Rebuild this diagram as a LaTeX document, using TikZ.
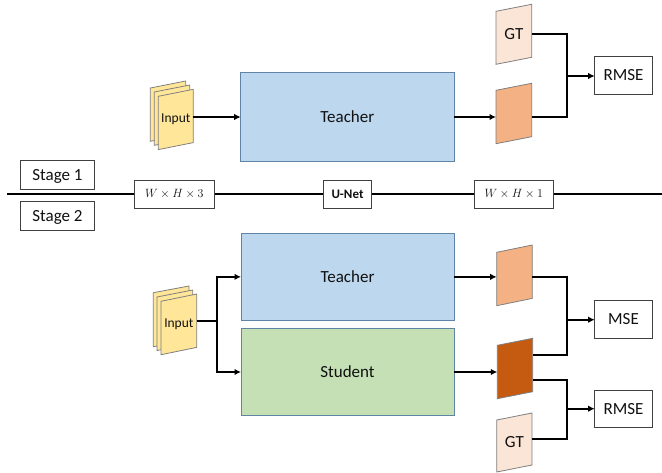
\documentclass[tikz,border=0pt]{standalone}
\usepackage{fontspec}
\setmainfont{Carlito}
\usetikzlibrary{arrows.meta,calc}
\definecolor{tfill}{HTML}{BDD7EE}
\definecolor{sfill}{HTML}{C5E0B4}
\definecolor{blockedge}{HTML}{5F84A6}
\definecolor{ofill}{HTML}{F4B183}
\definecolor{dfill}{HTML}{C55A11}
\definecolor{gfill}{HTML}{FBE5D6}
\definecolor{yfill}{HTML}{FFE699}
\definecolor{sheetedge}{HTML}{7F7F7F}
\definecolor{boxedge}{HTML}{404040}
\definecolor{txt}{HTML}{111111}
\tikzset{
  wire/.style={line width=2.1pt,black,line join=miter},
  arrowwire/.style={wire,-{Latex[length=6.5pt,width=6.5pt]}},
  blockT/.style={draw=blockedge,line width=1pt,fill=tfill},
  blockS/.style={draw=blockedge,line width=1pt,fill=sfill},
  labelbox/.style={draw=boxedge,line width=1pt,fill=white},
  sheet/.style={draw=sheetedge,line width=.8pt},
}
\newcommand{\BoxN}[7][]{%
  \pgfmathsetmacro{\bw}{#5-#3}\pgfmathsetmacro{\bh}{#6-#4}%
  \node[#1,rectangle,inner sep=0pt,outer sep=0pt,text=txt,minimum width=\bw pt,minimum height=\bh pt] (#2) at ({(#3+#5)/2},{(#4+#6)/2}) {#7};}
% name, xl, xr, y top right, skew, h, fill, text+font
\newcommand{\SheetN}[8]{%
  \pgfmathsetmacro{\bw}{#3-#2}\pgfmathsetmacro{\bh}{#6+#5}%
  \draw[sheet,fill=#7] (#2,#4+#5) -- (#3,#4) -- (#3,#4+#6) -- (#2,#4+#5+#6) -- cycle;
  \node[rectangle,inner sep=0pt,outer sep=0pt,text=txt,minimum width=\bw pt,minimum height=\bh pt] (#1) at ({(#2+#3)/2},{#4+(#5+#6)/2}) {#8};}
\newcommand{\FsL}{\fontsize{17}{19}\selectfont}
\newcommand{\FsI}{\fontsize{13.5}{15}\selectfont}
\newcommand{\FsM}{\fontsize{12}{14}\selectfont}
\begin{document}
\begin{tikzpicture}[x=1pt,y=-1pt]
\useasboundingbox (0,0) rectangle (662,472);
% stage divider
\coordinate (ruleL) at (7,194.3);
\coordinate (ruleR) at (662,194.3);
\draw[wire] (ruleL) -- (ruleR);
\BoxN[labelbox]{stageA}{20.7}{160.3}{94.3}{189}{\raisebox{-5.5pt}[0pt][0pt]{\FsL Stage 1}}
\BoxN[labelbox]{stageB}{20.7}{201.3}{94.3}{230.3}{\raisebox{-5.5pt}[0pt][0pt]{\FsL Stage 2}}
\BoxN[labelbox]{dimA}{134.3}{180}{214.3}{208.3}{\FsM $W\times H\times 3$}
\BoxN[labelbox]{unet}{323.3}{180}{371.7}{208.3}{\fontsize{13}{15}\selectfont\bfseries U-Net}
\BoxN[labelbox]{dimB}{474.3}{180}{553.3}{208.3}{\FsM $W\times H\times 1$}
% stage 1
\SheetN{ia1}{150.3}{185.7}{81}{7}{53.3}{yfill}{}
\SheetN{ib1}{154.3}{189.7}{85}{7}{53.3}{yfill}{}
\SheetN{ic1}{158.3}{193.3}{89.3}{7}{53.3}{yfill}{\FsI Input}
\BoxN[blockT]{teachA}{240.7}{72.6}{454}{161.4}{\FsL Teacher}
\SheetN{gtA}{496}{531.7}{4.3}{7}{53}{gfill}{\FsL GT}
\SheetN{outA}{496}{531.7}{83.3}{7}{53.4}{ofill}{}
\BoxN[labelbox]{rmseA}{594.7}{56.7}{652.3}{94.3}{\FsL RMSE}
\coordinate (joinA) at (567,76);
\draw[arrowwire] (ic1.east |- teachA.west) -- (teachA.west);
\draw[arrowwire] (teachA.east) -- (teachA.east -| outA.west);
\draw[wire] (gtA.east) -| (joinA) |- (teachA.east -| outA.east);
\draw[arrowwire] (joinA) -- (joinA -| rmseA.west);
% stage 2
\SheetN{ia2}{153.3}{189}{286}{6.7}{54}{yfill}{}
\SheetN{ib2}{157}{192.7}{290}{7}{53.5}{yfill}{}
\SheetN{ic2}{161}{196.7}{294}{7.3}{53.4}{yfill}{\FsI Input}
\BoxN[blockT]{teachB}{241}{233}{454}{320.7}{\FsL Teacher}
\BoxN[blockS]{student}{241}{328.3}{454}{415.7}{\FsL Student}
\SheetN{outB}{496.7}{532.3}{245}{7.3}{53.4}{ofill}{}
\SheetN{outS}{497.3}{532.7}{338.3}{7}{53.4}{dfill}{}
\SheetN{gtB}{496.7}{532}{413}{7}{52}{gfill}{\FsL GT}
\BoxN[labelbox]{mse}{594.7}{300.7}{652.3}{338}{\FsL MSE}
\BoxN[labelbox]{rmseB}{594.7}{390}{652.3}{427.3}{\FsL RMSE}
\coordinate (fork) at (216.7,321);
\coordinate (joinB) at (567,319.7);
\coordinate (joinC) at (567,408.7);
\coordinate (upS) at (532.7,354.7);
\coordinate (loS) at (532.7,379.7);
\coordinate (gtport) at (532,438.7);
\draw[wire] (ic2.east |- fork) -- (fork);
\draw[arrowwire] (fork) |- (teachB.west);
\draw[arrowwire] (fork) |- (student.west);
\draw[arrowwire] (teachB.east) -- (teachB.east -| outB.west);
\draw[arrowwire] (student.east) -- (student.east -| outS.west);
\draw[wire] (teachB.east -| outB.east) -| (joinB) |- (upS);
\draw[arrowwire] (joinB) -- (joinB -| mse.west);
\draw[wire] (loS) -| (joinC) |- (gtport);
\draw[arrowwire] (joinC) -- (joinC -| rmseB.west);
\end{tikzpicture}
\end{document}
